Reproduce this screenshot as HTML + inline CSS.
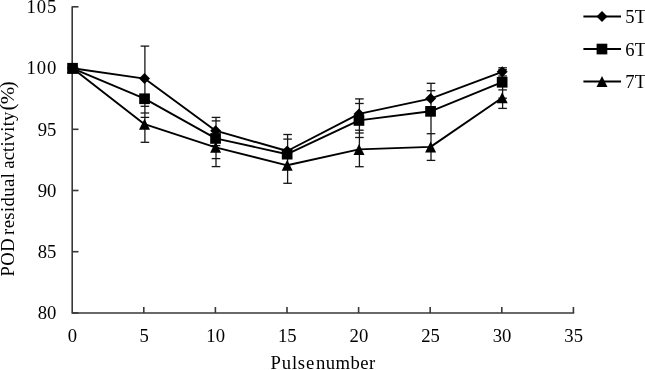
<!DOCTYPE html>
<html><head><meta charset="utf-8"><title>chart</title>
<style>
html,body{margin:0;padding:0;background:#fff;}
body{width:645px;height:370px;overflow:hidden;}
.t{font-family:"Liberation Serif","Times New Roman",serif;font-size:18.67px;fill:#000;}
</style></head><body>
<svg width="645" height="370" viewBox="0 0 645 370" style="display:block">
<rect width="645" height="370" fill="#fff"/>
<g stroke="#383838" stroke-width="1.6" fill="none">
<path d="M72.2 6.2 V313.0 H574.2"/>
<path d="M72.2 313.0 h6.3"/>
<path d="M72.2 251.7 h6.3"/>
<path d="M72.2 190.5 h6.3"/>
<path d="M72.2 129.3 h6.3"/>
<path d="M72.2 68.1 h6.3"/>
<path d="M72.2 6.8 h6.3"/>
<path d="M143.8 313.0 v-6"/>
<path d="M215.4 313.0 v-6"/>
<path d="M287.0 313.0 v-6"/>
<path d="M358.6 313.0 v-6"/>
<path d="M430.2 313.0 v-6"/>
<path d="M501.8 313.0 v-6"/>
<path d="M573.4 313.0 v-6"/>
</g>
<g stroke="#161616" stroke-width="1.3" fill="none">
<path d="M144.9 46.1 V142.3"/>
<path d="M140.6 46.1 h8.6"/>
<path d="M140.6 106.3 h8.6"/>
<path d="M140.6 113.0 h8.6"/>
<path d="M140.6 117.4 h8.6"/>
<path d="M140.6 142.3 h8.6"/>
<path d="M216.0 117.4 V166.6"/>
<path d="M211.7 117.4 h8.6"/>
<path d="M211.7 120.9 h8.6"/>
<path d="M211.7 145.6 h8.6"/>
<path d="M211.7 158.6 h8.6"/>
<path d="M211.7 166.6 h8.6"/>
<path d="M287.6 134.5 V183.3"/>
<path d="M283.3 134.5 h8.6"/>
<path d="M283.3 139.1 h8.6"/>
<path d="M283.3 183.3 h8.6"/>
<path d="M359.4 98.9 V166.7"/>
<path d="M355.1 98.9 h8.6"/>
<path d="M355.1 103.5 h8.6"/>
<path d="M355.1 130.2 h8.6"/>
<path d="M355.1 133.0 h8.6"/>
<path d="M355.1 137.5 h8.6"/>
<path d="M355.1 166.7 h8.6"/>
<path d="M431.0 83.3 V160.4"/>
<path d="M426.7 83.3 h8.6"/>
<path d="M426.7 90.7 h8.6"/>
<path d="M426.7 133.7 h8.6"/>
<path d="M426.7 160.4 h8.6"/>
<path d="M502.6 67.8 V108.4"/>
<path d="M498.3 67.8 h8.6"/>
<path d="M498.3 69.7 h8.6"/>
<path d="M498.3 76.0 h8.6"/>
<path d="M498.3 89.9 h8.6"/>
<path d="M498.3 98.2 h8.6"/>
<path d="M498.3 108.4 h8.6"/>
</g>
<polyline points="72.5,68.3 144.5,78.6 215.6,130.7 287.2,151.0 359.0,113.9 430.6,98.6 502.2,71.8" fill="none" stroke="#000" stroke-width="1.9" stroke-linejoin="round"/>
<polyline points="72.5,68.3 144.5,98.7 215.6,138.4 287.2,154.2 359.0,120.4 430.6,111.3 502.2,82.2" fill="none" stroke="#000" stroke-width="1.9" stroke-linejoin="round"/>
<polyline points="72.5,68.3 144.5,124.2 215.6,147.3 287.2,165.3 359.0,149.4 430.6,146.9 502.2,97.8" fill="none" stroke="#000" stroke-width="1.9" stroke-linejoin="round"/>
<path d="M72.5 62.8 L78.0 68.3 L72.5 73.8 L67.0 68.3Z" fill="#000"/>
<path d="M144.5 73.1 L150.0 78.6 L144.5 84.1 L139.0 78.6Z" fill="#000"/>
<path d="M215.6 125.2 L221.1 130.7 L215.6 136.2 L210.1 130.7Z" fill="#000"/>
<path d="M287.2 145.5 L292.7 151.0 L287.2 156.5 L281.7 151.0Z" fill="#000"/>
<path d="M359.0 108.4 L364.5 113.9 L359.0 119.4 L353.5 113.9Z" fill="#000"/>
<path d="M430.6 93.1 L436.1 98.6 L430.6 104.1 L425.1 98.6Z" fill="#000"/>
<path d="M502.2 66.3 L507.7 71.8 L502.2 77.3 L496.7 71.8Z" fill="#000"/>
<path d="M72.5 62.8 L78.0 73.8 L67.0 73.8Z" fill="#000"/>
<path d="M144.5 118.7 L150.0 129.7 L139.0 129.7Z" fill="#000"/>
<path d="M215.6 141.8 L221.1 152.8 L210.1 152.8Z" fill="#000"/>
<path d="M287.2 159.8 L292.7 170.8 L281.7 170.8Z" fill="#000"/>
<path d="M359.0 143.9 L364.5 154.9 L353.5 154.9Z" fill="#000"/>
<path d="M430.6 141.4 L436.1 152.4 L425.1 152.4Z" fill="#000"/>
<path d="M502.2 92.3 L507.7 103.3 L496.7 103.3Z" fill="#000"/>
<rect x="67.2" y="62.9" width="10.7" height="10.7" fill="#000"/>
<rect x="139.2" y="93.4" width="10.7" height="10.7" fill="#000"/>
<rect x="210.2" y="133.1" width="10.7" height="10.7" fill="#000"/>
<rect x="281.8" y="148.8" width="10.7" height="10.7" fill="#000"/>
<rect x="353.6" y="115.1" width="10.7" height="10.7" fill="#000"/>
<rect x="425.2" y="106.0" width="10.7" height="10.7" fill="#000"/>
<rect x="496.8" y="76.9" width="10.7" height="10.7" fill="#000"/>
<path d="M583.4 16.6 H621" stroke="#000" stroke-width="2"/>
<path d="M602.0 11.1 L607.5 16.6 L602.0 22.1 L596.5 16.6Z" fill="#000"/>
<text x="625.3" y="23.0" class="t">5T</text>
<path d="M583.4 49.1 H621" stroke="#000" stroke-width="2"/>
<rect x="596.6" y="43.7" width="10.7" height="10.7" fill="#000"/>
<text x="625.3" y="55.5" class="t">6T</text>
<path d="M583.4 81.5 H621" stroke="#000" stroke-width="2"/>
<path d="M602.0 76.0 L607.5 87.0 L596.5 87.0Z" fill="#000"/>
<text x="625.3" y="87.9" class="t">7T</text>
<text x="56.3" y="319.2" text-anchor="end" class="t">80</text>
<text x="56.3" y="257.9" text-anchor="end" class="t">85</text>
<text x="56.3" y="196.7" text-anchor="end" class="t">90</text>
<text x="56.3" y="135.5" text-anchor="end" class="t">95</text>
<text x="56.3" y="74.3" text-anchor="end" class="t" textLength="29.7" lengthAdjust="spacing">100</text>
<text x="56.3" y="13.1" text-anchor="end" class="t" textLength="29.7" lengthAdjust="spacing">105</text>
<text x="72.5" y="342.0" text-anchor="middle" class="t">0</text>
<text x="144.1" y="342.0" text-anchor="middle" class="t">5</text>
<text x="215.7" y="342.0" text-anchor="middle" class="t">10</text>
<text x="287.3" y="342.0" text-anchor="middle" class="t">15</text>
<text x="358.9" y="342.0" text-anchor="middle" class="t">20</text>
<text x="430.5" y="342.0" text-anchor="middle" class="t">25</text>
<text x="502.1" y="342.0" text-anchor="middle" class="t">30</text>
<text x="573.7" y="342.0" text-anchor="middle" class="t">35</text>
<text y="369.4" class="t" id="xt"><tspan x="270.6" textLength="43.6" lengthAdjust="spacing">Pulse</tspan> <tspan x="316" textLength="59.2" lengthAdjust="spacing">number</tspan></text>
<text transform="translate(14 0) rotate(-90)" class="t" id="yt"><tspan x="-276.5" textLength="38.3" lengthAdjust="spacing">POD</tspan> <tspan x="-235" textLength="62" lengthAdjust="spacing">residual</tspan> <tspan x="-168.8" textLength="57.2" lengthAdjust="spacing">activity</tspan><tspan x="-110.4" style="font-size:21px">(</tspan><tspan x="-104.3" textLength="17.5" lengthAdjust="spacingAndGlyphs">%</tspan><tspan x="-88.3" style="font-size:21px">)</tspan></text>
</svg>
</body></html>
